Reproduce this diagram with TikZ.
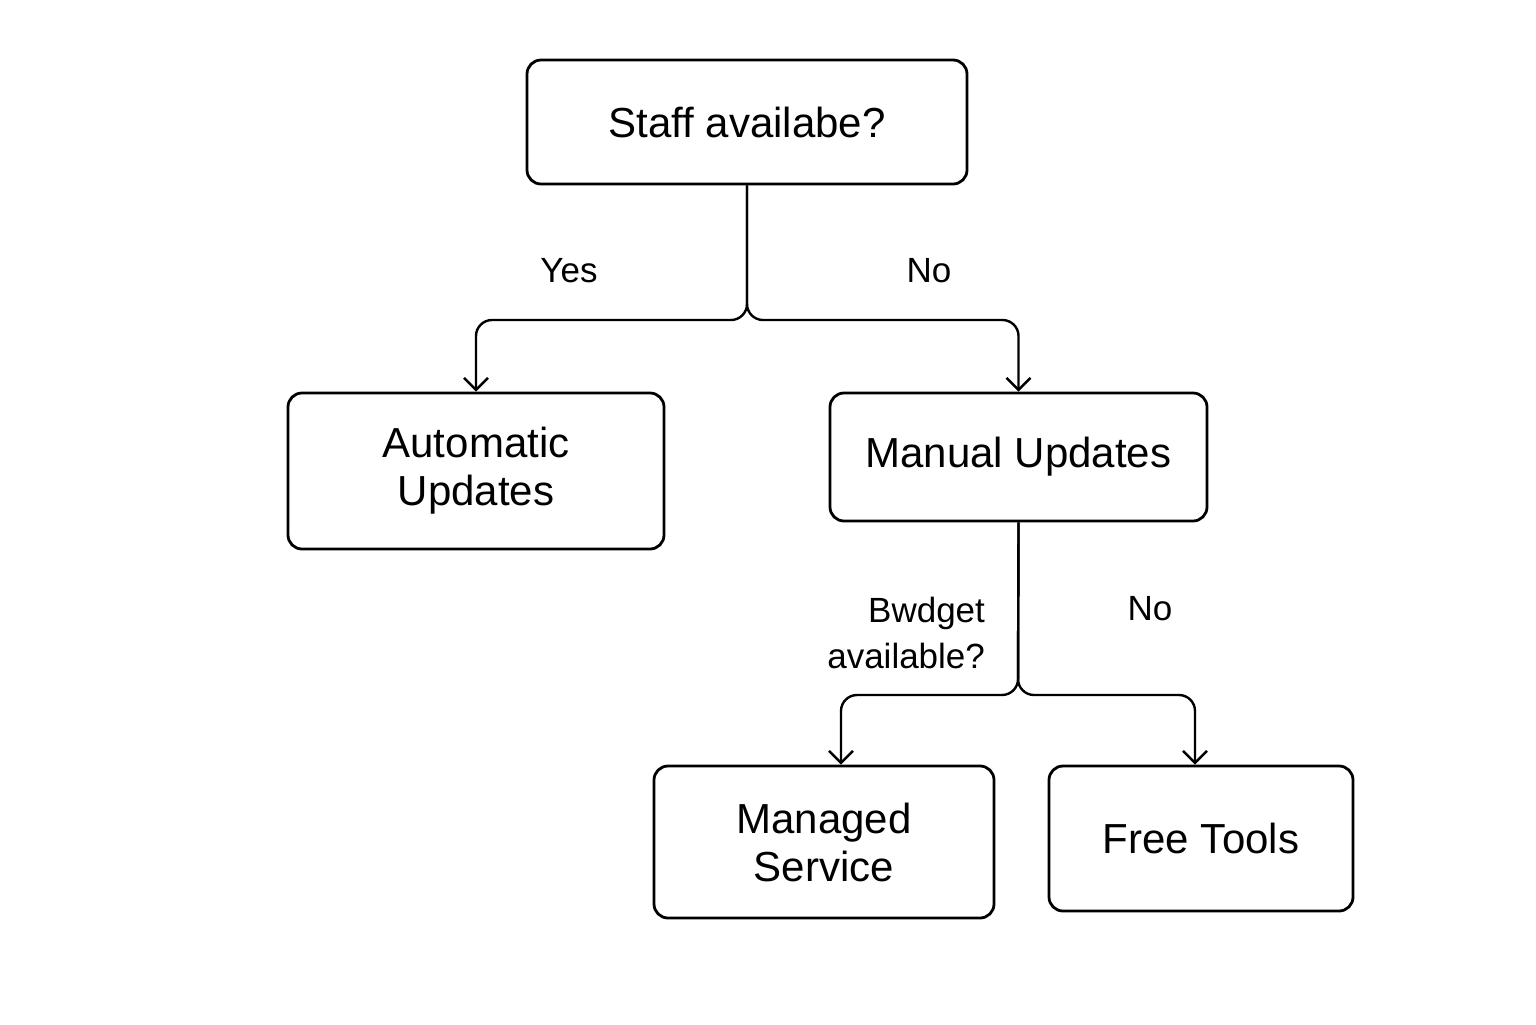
\documentclass[tikz,border=0pt]{standalone}
\usepackage{fontspec}
\setmainfont{Liberation Sans}
\usetikzlibrary{arrows.meta}
\begin{document}
\begin{tikzpicture}[x=0.5pt,y=-0.5pt,
  box/.style={draw,line width=1.4pt,rounded corners=7pt,align=center,font=\fontsize{21}{24}\selectfont,inner sep=0pt},
  lbl/.style={font=\fontsize{17.5}{23}\selectfont},
  conn/.style={line width=1.2pt,rounded corners=8pt,-{Straight Barb[length=6pt,width=12pt,line width=1.2pt]}}]
\useasboundingbox (0,0) rectangle (1536,1024);
\node[box,minimum width=220pt,minimum height=62pt] (s) at (747,122) {Staff availabe?};
\node[box,minimum width=188pt,minimum height=78pt] (a) at (476,471) {Automatic\\Updates};
\node[box,minimum width=188.5pt,minimum height=64pt] (m) at (1018.5,457) {Manual Updates};
\node[box,minimum width=170pt,minimum height=76pt] (ms) at (824,842) {Managed\\Service};
\node[box,minimum width=152pt,minimum height=72.5pt] (f) at (1201,838.5) {Free Tools};
\coordinate (j1) at (747,320);
\coordinate (j2) at (1018,695);
\draw[conn] (s.south) -- (j1) -| (a.north);
\draw[conn] (s.south) -- (j1) -| (m.north);
\draw[conn] (m.south) -- (j2) -| (ms.north -| 841,0);
\draw[conn] (m.south) -- (j2) -| (f.north -| 1195,0);
\node[lbl] (yes) at (569,271) {Yes};
\node[lbl] (no1) at (929,271) {No};
\node[lbl,align=right,anchor=east] (bud) at (992,633) {Bwdget\\available?};
\node[lbl] (no2) at (1150,609) {No};
\end{tikzpicture}
\end{document}
